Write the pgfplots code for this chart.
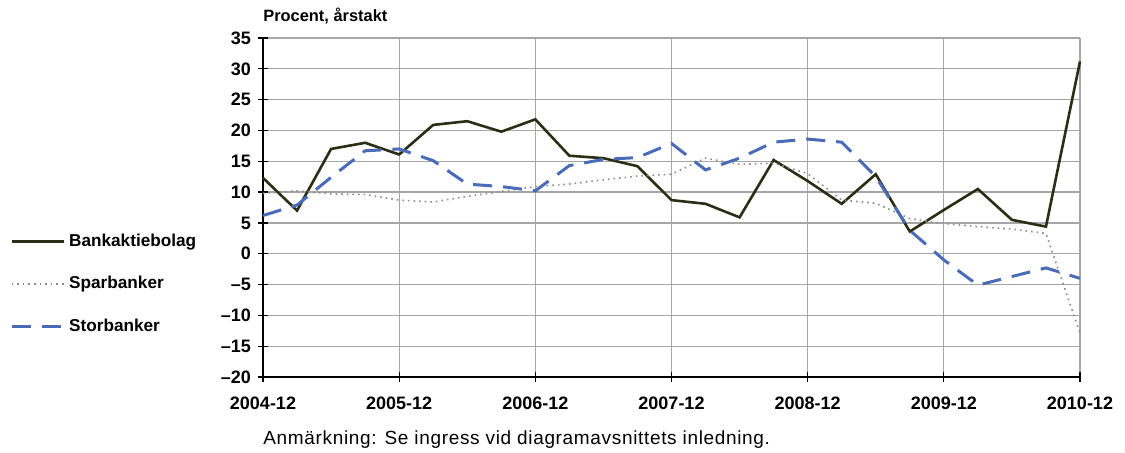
\documentclass[border=0pt]{standalone}
\usepackage{fontspec}
\setmainfont{Liberation Sans}
\usepackage{pgfplots}
\pgfplotsset{compat=1.18}

\definecolor{bankcol}{HTML}{2A2E14}
\definecolor{sparcol}{HTML}{8C8C8C}
\definecolor{storcol}{HTML}{4A6BB7}
\definecolor{gridcol}{HTML}{A6A6A6}

% quarterly, 0 = 2004-12 ... 24 = 2010-12
\pgfplotstableread{
q bank spar stor
0  12.3  9.8   6.2
1  7.0   10.2  7.9
2  17.0  9.7   12.4
3  18.0  9.6   16.7
4  16.1  8.7   17.0
5  20.9  8.4   15.1
6  21.5  9.3   11.3
7  19.8  10.1  10.9
8  21.8  10.9  10.2
9  15.9  11.3  14.3
10 15.5  12.0  15.3
11 14.2  12.6  15.6
12 8.7   12.9  17.9
13 8.1   15.5  13.6
14 5.9   14.5  15.5
15 15.2  14.7  18.1
16 11.8  13.0  18.6
17 8.1   8.7   18.1
18 12.9  8.2   12.5
19 3.6   5.7   3.8
20 7.1   4.9   -1.0
21 10.5  4.4   -5.1
22 5.5   4.0   -3.7
23 4.4   3.3   -2.3
24 31.2  -12.9 -4.0
}\data

\begin{document}
\begin{tikzpicture}
\path[use as bounding box] (-131.5pt,-37.5pt) rectangle (431pt,188.5pt);
\begin{axis}[
  scale only axis, width=408.5pt, height=169.5pt,
  at={(0,0)}, anchor=south west,
  xmin=0, xmax=24, ymin=-20, ymax=35,
  axis x line*=bottom, axis y line*=left,
  axis line style={black, line width=0.8pt},
  xtick={0,4,...,24},
  xticklabels={2004-12,2005-12,2006-12,2007-12,2008-12,2009-12,2010-12},
  ytick={-20,-15,...,35},
  yticklabels={\textendash20,\textendash15,\textendash10,\textendash5,0,5,10,15,20,25,30,35},
  tick label style={font=\fontsize{9}{10}\selectfont\bfseries},
  xticklabel style={yshift=-4pt},
  tick align=center, major tick length=5pt,
  tick style={black, line width=0.6pt},
  grid=major, grid style={gridcol, line width=0.6pt},
  clip=false,
  legend style={at={(axis description cs:-0.31,0.274)}, anchor=west,
    draw=none, fill=none, font=\fontsize{8.6}{10}\selectfont\bfseries,
    row sep=9.5pt, inner sep=0pt,
    nodes={inner xsep=2pt}},
  legend cell align=left,
  legend image code/.code={\draw[#1] (0pt,0pt) -- (26pt,0pt);},
]
\addplot[bankcol, line width=1.3pt] table[x=q, y=bank] {\data};
\addlegendentry{Bankaktiebolag}
\addplot[sparcol, line width=0.8pt, dash pattern=on 0.8pt off 2pt] table[x=q, y=spar] {\data};
\addlegendentry{Sparbanker}
\addplot[storcol, line width=1.5pt, dash pattern=on 9.5pt off 5.5pt] table[x=q, y=stor] {\data};
\addlegendentry{Storbanker}
\node[anchor=south west, inner sep=0pt, font=\fontsize{8.2}{9}\selectfont\bfseries]
  at (axis description cs:0,1) [yshift=7pt] {Procent, årstakt};
\node[anchor=base west, inner sep=0pt, font=\fontsize{9.5}{10}\selectfont\addfontfeature{LetterSpace=3.5}]
  at (axis description cs:0,0) [yshift=-33.5pt] {Anmärkning: Se ingress vid diagramavsnittets inledning.};
\end{axis}
\end{tikzpicture}
\end{document}
